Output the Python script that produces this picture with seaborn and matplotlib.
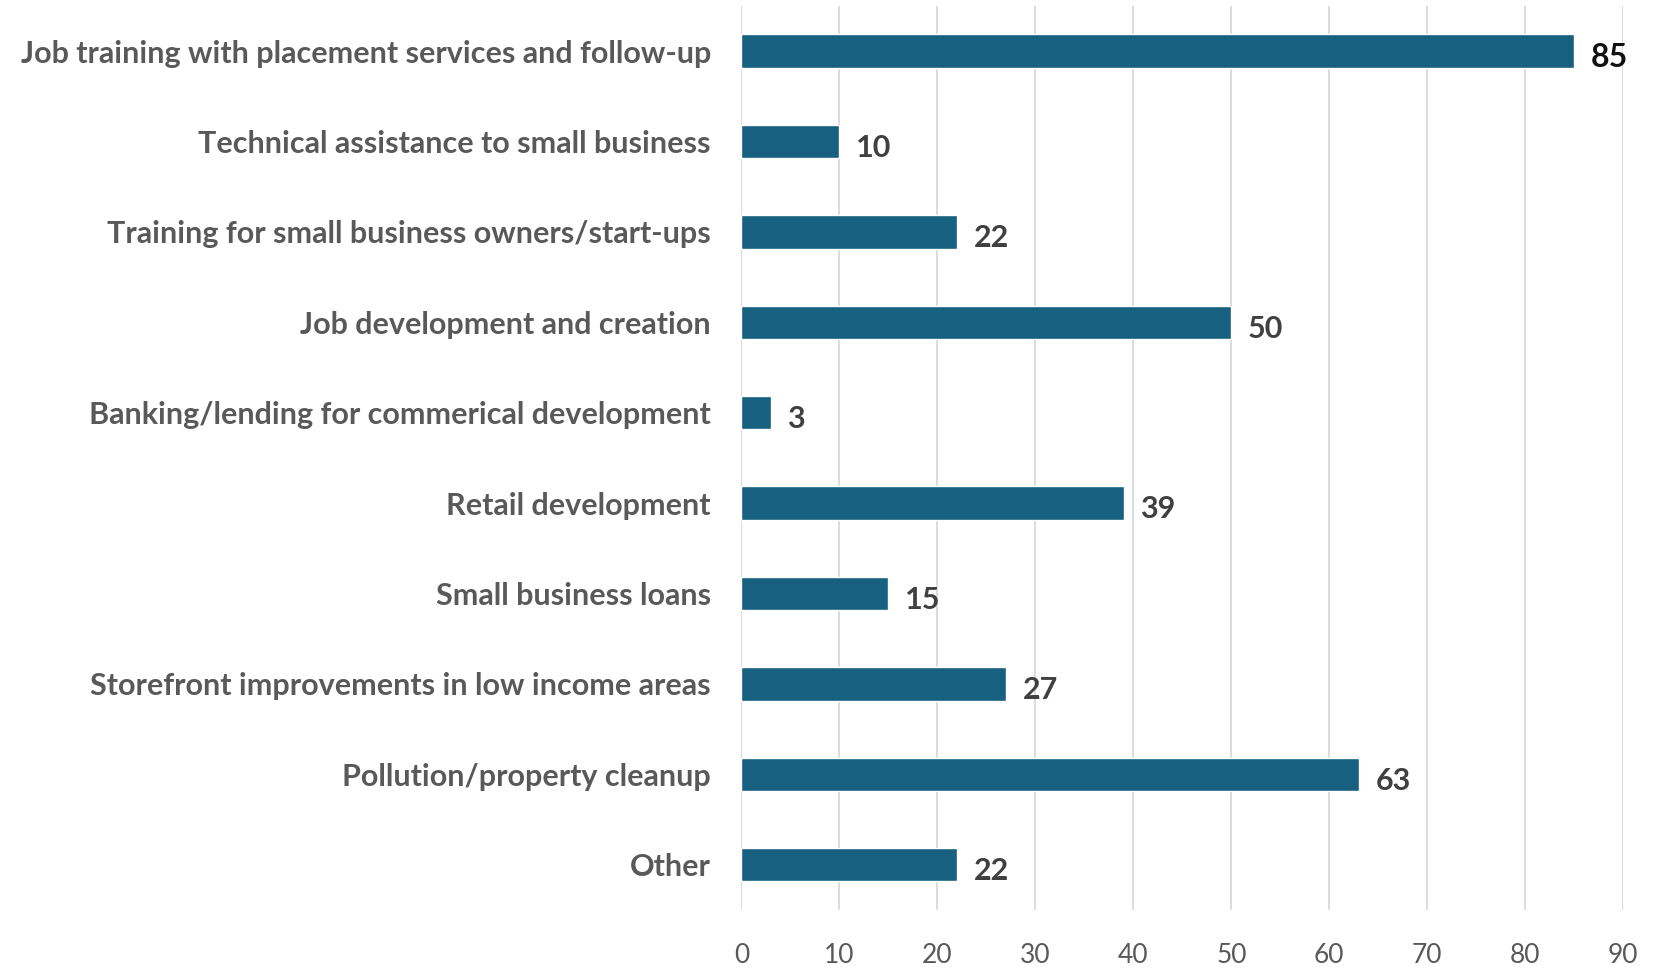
import matplotlib
matplotlib.use("Agg")
import matplotlib.pyplot as plt
import seaborn as sns
import pandas as pd

categories = [
    "Job training with placement services and follow-up",
    "Technical assistance to small business",
    "Training for small business owners/start-ups",
    "Job development and creation",
    "Banking/lending for commerical development",
    "Retail development",
    "Small business loans",
    "Storefront improvements in low income areas",
    "Pollution/property cleanup",
    "Other",
]
values = [85, 10, 22, 50, 3, 39, 15, 27, 63, 22]
x_ticks = [0, 10, 20, 30, 40, 50, 60, 70, 80, 90]

df = pd.DataFrame({"category": categories, "value": values})

sns.set_theme(style="white")
plt.rcParams["font.family"] = ["Lato", "DejaVu Sans"]

fig = plt.figure(figsize=(16.70, 9.69), dpi=100)
ax = fig.add_axes([0.444, 0.061, 0.528, 0.933])

sns.barplot(data=df, x="value", y="category", orient="h", color="#17607f",
            saturation=1, width=0.37, ax=ax)

ax.set_xlim(0, 90)
ax.set_ylim(len(categories) - 0.5, -0.5)
ax.set_xticks(x_ticks)
ax.set_xticklabels([str(t) for t in x_ticks])
ax.grid(axis="x", color="#d9d9d9", linewidth=1.3)
ax.grid(axis="y", visible=False)
ax.set_axisbelow(True)
for s in ax.spines.values():
    s.set_visible(False)
ax.set_xlabel("")
ax.set_ylabel("")
ax.tick_params(axis="x", length=0, pad=24, labelsize=19, labelcolor="#595959")
ax.tick_params(axis="y", length=0, pad=22, labelsize=22, labelcolor="#595959")
for lbl in ax.get_yticklabels():
    lbl.set_fontweight("bold")

for i, v in enumerate(values):
    ax.text(v + 1.7, i + 0.07, str(v), va="center", ha="left",
            fontsize=23 if v == 85 else 22, fontweight="bold",
            color="#111111" if v == 85 else "#404040")

fig.savefig("out.png", dpi=100)
